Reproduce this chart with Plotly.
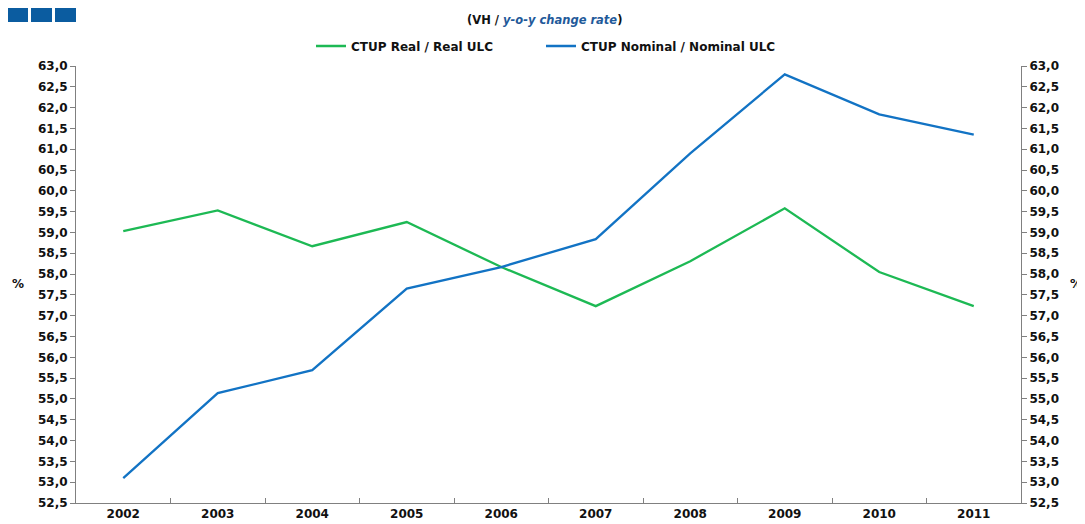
import plotly.graph_objects as go

years = ["2002", "2003", "2004", "2005", "2006", "2007", "2008", "2009", "2010", "2011"]
ctup_real = [59.03, 59.53, 58.67, 59.25, 58.17, 57.23, 58.31, 59.58, 58.05, 57.23]
ctup_nominal = [53.10, 55.14, 55.69, 57.65, 58.17, 58.84, 60.90, 62.80, 61.84, 61.35]

green = "#1DB954"
blue = "#1273C4"
font_family = "DejaVu Sans, Liberation Sans, Arial, sans-serif"

# page body adds an 8px offset; size the figure so it fits in the window
OFF = 8
W, H = 1085 - OFF, 524 - OFF
# plot area in screenshot pixels: x 76..1021, y 66..503
L = 76 - OFF
T = 66 - OFF
R = W - (1021 - OFF)
B = H - (503 - OFF)
pw = W - L - R
ph = H - T - B


def px_x(x):
    return (x - OFF - L) / pw


def px_y(y):
    return (H - B - (y - OFF)) / ph


fig = go.Figure()
fig.add_trace(go.Scatter(x=years, y=ctup_real, mode="lines", name="CTUP Real / Real ULC",
                         line=dict(color=green, width=2.3), yaxis="y", legend="legend"))
fig.add_trace(go.Scatter(x=years, y=ctup_nominal, mode="lines", name="CTUP Nominal / Nominal ULC",
                         line=dict(color=blue, width=2.3), yaxis="y2", legend="legend2"))

bold12 = dict(family=font_family, size=12, color="#111111", weight="bold")

yax = dict(range=[52.5, 63.0], dtick=0.5, tick0=52.5, tickformat=".1f",
           showgrid=False, zeroline=False, showline=True, linecolor="#808080", linewidth=1,
           ticks="outside", ticklen=5, tickcolor="#808080", tickfont=bold12)

fig.update_layout(
    width=W, height=H,
    paper_bgcolor="white", plot_bgcolor="white",
    separators=",.",
    margin=dict(l=L, r=R, t=T, b=B, autoexpand=False),
    showlegend=True,
    legend=dict(orientation="h", x=px_x(311), xanchor="left", y=px_y(46), yanchor="middle",
                font=bold12, tracegroupgap=0),
    legend2=dict(orientation="h", x=px_x(541), xanchor="left", y=px_y(46), yanchor="middle",
                 font=bold12, tracegroupgap=0),
    xaxis=dict(type="category", showgrid=False, showline=True, linecolor="#808080", linewidth=1,
               ticks="inside", ticklen=5, tickcolor="#808080", tickson="boundaries",
               tickfont=bold12, range=[-0.5, 9.5]),
    yaxis=dict(side="left", **yax),
    yaxis2=dict(side="right", overlaying="y", **yax),
)

fig.add_annotation(text="(VH / <i><span style='color:#1F5A9A'>y-o-y change rate</span></i>)",
                   x=px_x(544), xref="paper", xanchor="center", y=px_y(20), yref="paper", yanchor="middle",
                   showarrow=False, font=dict(family=font_family, size=11.5, color="#111111", weight="bold"))
for xp in [18, 1076]:
    fig.add_annotation(text="%", x=px_x(xp), xref="paper", y=px_y(284), yref="paper",
                       xanchor="center", yanchor="middle", showarrow=False, font=bold12)

# decorative blue squares top-left
for x0 in [7, 31, 55]:
    fig.add_shape(type="rect", xref="paper", yref="paper",
                  x0=px_x(x0), x1=px_x(x0 + 21),
                  y0=px_y(22), y1=px_y(7),
                  fillcolor="#0B5CA0", line=dict(width=0))

fig.write_html("out.html")
